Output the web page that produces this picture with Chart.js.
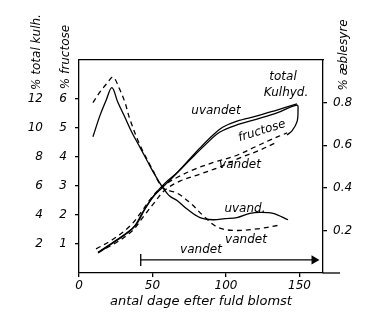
<!DOCTYPE html>
<html>
<head>
<meta charset="utf-8">
<script src="https://cdn.jsdelivr.net/npm/chart.js@4.4.1/dist/chart.umd.min.js"></script>
<style>
  html, body { margin: 0; padding: 0; background: #fff; }
  #wrap { width: 376px; height: 321px; }
</style>
</head>
<body>
<div id="wrap"><canvas id="c" width="376" height="321"></canvas></div>
<script>
// ---- Data ----

const xTicks = [0, 50, 100, 150];
const fructoseTicks = [1, 2, 3, 4, 5, 6];
const totalTicks = [2, 4, 6, 8, 10, 12];
const malicTicks = [0.2, 0.4, 0.6, 0.8];

// % æblesyre (right axis)
const malicDryDays = [9.5, 14.3, 18.4, 22.4, 26.5, 31.3, 36, 41.5, 46.9, 51.7, 57.1, 61.9, 66.7, 73.5, 82.3, 91.2, 99.3, 107.5, 116.3, 123.1, 132, 142.2];
const malicDry = [0.64, 0.74, 0.81, 0.87, 0.80, 0.73, 0.66, 0.59, 0.52, 0.46, 0.40, 0.36, 0.34, 0.30, 0.26, 0.25, 0.255, 0.26, 0.28, 0.285, 0.28, 0.25];
const malicWetDays = [9.5, 14.3, 19, 23.1, 27.2, 31.3, 34.7, 41.5, 49.7, 57.1, 66.7, 75.5, 84.4, 93.9, 104.8, 121.1, 136.7];
const malicWet = [0.80, 0.85, 0.89, 0.92, 0.87, 0.80, 0.72, 0.60, 0.49, 0.40, 0.375, 0.33, 0.27, 0.216, 0.20, 0.207, 0.225];

// % total kulhydrat
const totalDryDays = [12.9, 23.1, 36.7, 43.5, 50.3, 57.1, 65.3, 73.5, 82.3, 91.2, 98, 107.5, 121.1, 134.7, 148.3];
const totalDry = [1.38, 2.07, 3.10, 4.21, 5.24, 5.93, 6.76, 7.66, 8.62, 9.52, 10.07, 10.48, 10.83, 11.24, 11.66];
const totalWetDays = [11.6, 22.4, 34.7, 42.9, 49.7, 57.1, 67.3, 78.9, 92.5, 106.1, 119.7, 129.9, 141.5];
const totalWet = [1.66, 2.28, 3.24, 4.28, 5.24, 6.0, 6.62, 7.17, 7.66, 8.07, 8.69, 9.17, 9.66];

// % fructose
const fructDryDays = [14.3, 24.5, 38.1, 44.9, 51.7, 58.5, 67.3, 75.5, 85.7, 95.9, 109.5, 121.1, 134.7, 148.3, 149, 148.3, 144.9, 141.5];
const fructDry = [0.76, 1.10, 1.62, 2.21, 2.72, 3.10, 3.48, 3.90, 4.41, 4.86, 5.14, 5.31, 5.52, 5.79, 5.59, 5.21, 4.90, 4.76];
const fructWetDays = [12.9, 23.8, 36.1, 44.2, 51, 58.5, 68.7, 82.3, 95.9, 109.5, 121.8, 133.3];
const fructWet = [0.72, 1.0, 1.45, 1.97, 2.41, 2.86, 3.17, 3.41, 3.66, 3.97, 4.21, 4.48];

// watering period
const wateredDays = [42, 160];

// ---- Helpers ----

const hand = 'italic 12px "DejaVu Sans"';

function pts(xs, ys) {
  return xs.map((x, i) => ({ x: x, y: ys[i] }));
}

function curve(data, axis, dashed) {
  return {
    data: data,
    yAxisID: axis,
    borderColor: '#000',
    borderWidth: 1.3,
    borderDash: dashed ? [5, 4] : [],
    pointRadius: 0,
    tension: 0.35,
    fill: false
  };
}

function fixTicks(values) {
  return scale => { scale.ticks = values.map(v => ({ value: v })); };
}

// text written on the sheet, placed in x / fructose units
const notes = [
  { text: 'total', x: 138.8, y: 6.76 },
  { text: 'Kulhyd.', x: 140.8, y: 6.21 },
  { text: 'uvandet', x: 93.2, y: 5.59 },
  { text: 'fructose', x: 124.5, y: 4.9, rot: -0.3 },
  { text: 'vandet', x: 109.5, y: 3.72 },
  { text: 'uvand.', x: 112.9, y: 2.21 },
  { text: 'vandet', x: 113.6, y: 1.14 },
  { text: 'vandet', x: 83, y: 0.8 }
];

const sideTitles = [
  { text: '% total kulh.', px: 37, py: 52 },
  { text: '% fructose', px: 66, py: 57 },
  { text: '% æblesyre', px: 344, py: 55 }
];

const sketchPlugin = {
  id: 'sketch',
  afterDraw(chart) {
    const ctx = chart.ctx;
    const xs = chart.scales.x;
    const ys = chart.scales.y;
    const area = chart.chartArea;
    ctx.save();
    ctx.fillStyle = '#000';
    ctx.strokeStyle = '#000';
    ctx.font = hand;
    ctx.textAlign = 'center';
    ctx.textBaseline = 'middle';
    notes.forEach(n => {
      ctx.save();
      ctx.translate(xs.getPixelForValue(n.x), ys.getPixelForValue(n.y));
      if (n.rot) ctx.rotate(n.rot);
      ctx.fillText(n.text, 0, 0);
      ctx.restore();
    });
    sideTitles.forEach(t => {
      ctx.save();
      ctx.translate(t.px, t.py);
      ctx.rotate(-Math.PI / 2);
      ctx.fillText(t.text, 0, 0);
      ctx.restore();
    });
    // x axis runs on past the right axis
    ctx.lineWidth = 1.3;
    ctx.beginPath();
    ctx.moveTo(area.right, area.bottom);
    ctx.lineTo(area.right + 17, area.bottom);
    ctx.stroke();
    ctx.restore();
  }
};

// ---- Chart ----

const arrow = curve(pts(wateredDays, [0.45, 0.45]), 'y', false);
arrow.tension = 0;
arrow.pointRadius = [6, 4];
arrow.pointStyle = ['line', 'triangle'];
arrow.rotation = [90, 90];
arrow.pointBackgroundColor = '#000';
arrow.pointBorderColor = '#000';
arrow.pointBorderWidth = 1.3;

new Chart(document.getElementById('c'), {
  type: 'line',
  data: {
    datasets: [
      curve(pts(malicDryDays, malicDry), 'y2', false),
      curve(pts(malicWetDays, malicWet), 'y2', true),
      curve(pts(totalDryDays, totalDry), 'yTot', false),
      curve(pts(totalWetDays, totalWet), 'yTot', true),
      curve(pts(fructDryDays, fructDry), 'y', false),
      curve(pts(fructWetDays, fructWet), 'y', true),
      arrow
    ]
  },
  plugins: [sketchPlugin],
  options: {
    responsive: false,
    animation: false,
    layout: { padding: { top: 60, left: 0, right: 0, bottom: 0 } },
    plugins: { legend: { display: false }, tooltip: { enabled: false } },
    scales: {
      x: {
        type: 'linear',
        min: 0,
        max: 166,
        afterBuildTicks: fixTicks(xTicks),
        afterFit: s => { s.height = 48; },
        grid: { drawOnChartArea: false, tickLength: 4, color: '#000', lineWidth: 1.3 },
        border: { color: '#000', width: 1.3 },
        ticks: { color: '#000', font: { family: 'DejaVu Sans', style: 'italic', size: 12 }, padding: 2, maxRotation: 0 },
        title: {
          display: true,
          text: 'antal dage efter fuld blomst',
          color: '#000',
          font: { family: 'DejaVu Sans', style: 'italic', size: 13 },
          padding: { top: 0, bottom: 12 }
        }
      },
      xTop: {
        type: 'linear',
        position: 'top',
        min: 0,
        max: 166,
        afterFit: s => { s.height = 0; },
        grid: { display: false },
        ticks: { display: false },
        border: { color: '#000', width: 1.3 }
      },
      y: {
        position: 'left',
        weight: 0,
        min: 0,
        max: 7.345,
        afterBuildTicks: fixTicks(fructoseTicks),
        afterFit: s => { s.width = 31; },
        grid: { drawOnChartArea: false, tickLength: 4, color: '#000', lineWidth: 1.3 },
        border: { color: '#000', width: 1.3 },
        ticks: { color: '#000', font: { family: 'DejaVu Sans', style: 'italic', size: 12 }, padding: 8 }
      },
      yTot: {
        position: 'left',
        weight: 10,
        min: 0,
        max: 14.69,
        afterBuildTicks: fixTicks(totalTicks),
        afterFit: s => { s.width = 48; },
        grid: { display: false, drawTicks: false },
        border: { display: false },
        ticks: { color: '#000', font: { family: 'DejaVu Sans', style: 'italic', size: 12 }, padding: 5 }
      },
      y2: {
        position: 'right',
        min: 0,
        max: 1.0,
        afterBuildTicks: fixTicks(malicTicks),
        afterFit: s => { s.width = 53; },
        grid: { drawOnChartArea: false, tickLength: 4, color: '#000', lineWidth: 1.3 },
        border: { color: '#000', width: 1.3 },
        ticks: { color: '#000', font: { family: 'DejaVu Sans', style: 'italic', size: 12 }, padding: 6 }
      }
    }
  }
});
</script>
</body>
</html>
